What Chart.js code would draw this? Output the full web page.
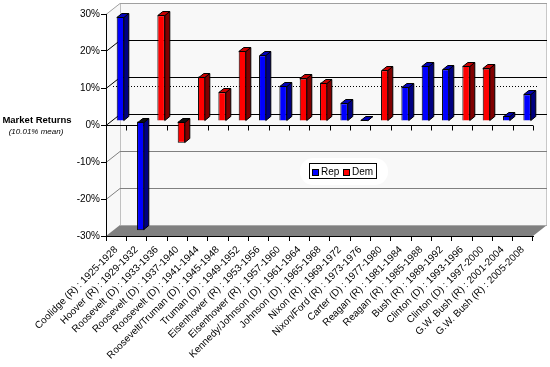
<!DOCTYPE html>
<html>
<head>
<meta charset="utf-8">
<script src="https://cdn.jsdelivr.net/npm/chart.js@4.4.1/dist/chart.umd.min.js"></script>
<style>
  html, body { margin: 0; padding: 0; background: #fff; }
  #wrap { width: 550px; height: 367px; }
</style>
</head>
<body>
<div id="wrap"><canvas id="returnsChart" width="550" height="367"></canvas></div>
<script>
// === DATA ===
const terms = [
  'Coolidge (R) : 1925-1928', 'Hoover (R) : 1929-1932', 'Roosevelt (D) : 1933-1936',
  'Roosevelt (D) : 1937-1940', 'Roosevelt (D) : 1941-1944', 'Roosevelt/Truman (D) : 1945-1948',
  'Truman (D) : 1949-1952', 'Eisenhower (R) : 1953-1956', 'Eisenhower (R) : 1957-1960',
  'Kennedy/Johnson (D) : 1961-1964', 'Johnson (D) : 1965-1968', 'Nixon (R) : 1969-1972',
  'Nixon/Ford (R) : 1973-1976', 'Carter (D) : 1977-1980', 'Reagan (R) : 1981-1984',
  'Reagan (R) : 1985-1988', 'Bush (R) : 1989-1992', 'Clinton (D) : 1993-1996',
  'Clinton (D) : 1997-2000', 'G.W. Bush (R) : 2001-2004', 'G.W. Bush (R) : 2005-2008'
];
const parties = ['R', 'R', 'D', 'D', 'D', 'D', 'D', 'R', 'R', 'D', 'D', 'R', 'R', 'D', 'R', 'R', 'R', 'D', 'D', 'R', 'R'];
const returns = [28.1, -29.5, 28.6, -5.9, 12.0, 7.8, 18.9, 17.8, 9.5, 11.5, 10.4, 4.8, 0.4, 13.7, 9.3, 14.9, 14.0, 14.9, 14.2, 1.4, 7.2];
const meanReturn = 10.01;
const yTickValues = [-30, -20, -10, 0, 10, 20, 30];

const repReturns = returns.map((v, i) => parties[i] === 'R' ? v : null);
const demReturns = returns.map((v, i) => parties[i] === 'D' ? v : null);

const FONT = 'Arial, "Liberation Sans", sans-serif';
const WALL = { dx: 14, dy: -11 };     // depth of the 3d box
const SHIFT = { dx: 4.3, dy: -4 };    // bars sit a bit inside the box
const BAR_D = { dx: 5, dy: -4 };      // depth of a single bar

const faceColors = {
  '#0000ff': { side: '#000080', top: '#0000b8' },
  '#ff0000': { side: '#800000', top: '#c80000' }
};

function line(ctx, x1, y1, x2, y2, color) {
  ctx.strokeStyle = color;
  ctx.beginPath();
  ctx.moveTo(x1, y1);
  ctx.lineTo(x2, y2);
  ctx.stroke();
}

function poly(ctx, pts, fill, stroke) {
  ctx.beginPath();
  ctx.moveTo(pts[0][0], pts[0][1]);
  pts.slice(1).forEach(p => ctx.lineTo(p[0], p[1]));
  ctx.closePath();
  if (fill) { ctx.fillStyle = fill; ctx.fill(); }
  if (stroke) { ctx.strokeStyle = stroke; ctx.stroke(); }
}

// === 3D BOX / BARS PLUGIN ===
const box3d = {
  id: 'box3d',
  beforeDraw(chart) {
    const { ctx, chartArea: a, scales: { y } } = chart;
    const L = a.left, R = a.right, T = a.top, B = a.bottom;
    const dx = WALL.dx, dy = WALL.dy;
    ctx.save();
    ctx.lineWidth = 1;
    // back wall + left wall
    ctx.fillStyle = '#f8f8f8';
    ctx.fillRect(L + dx, T + dy, R - L, B - T);
    poly(ctx, [[L, T], [L + dx, T + dy], [L + dx, B + dy], [L, B]], '#f8f8f8');
    // floor
    poly(ctx, [[L, B], [R, B], [R + dx, B + dy], [L + dx, B + dy]], '#808080');
    line(ctx, L + dx, B + dy + 0.5, R + dx, B + dy + 0.5, '#a8a8a8');
    // wall edges
    line(ctx, L + dx + 0.5, T + dy, L + dx + 0.5, B + dy, '#c0c0c0');
    line(ctx, R + dx - 0.5, T + dy, R + dx - 0.5, B + dy, '#c8c8c8');
    line(ctx, L + dx, T + dy + 0.5, R + dx, T + dy + 0.5, '#a0a0a0');
    line(ctx, L, T + 0.5, L + dx, T + dy + 0.5, '#a0a0a0');
    // gridlines on the walls
    yTickValues.forEach(v => {
      if (v === yTickValues[0] || v === yTickValues[yTickValues.length - 1]) return;
      const py = Math.round(y.getPixelForValue(v)) + 0.5;
      const c = v >= 0 ? '#000000' : '#808080';
      line(ctx, L, py, L + dx, py + dy, c);
      line(ctx, L + dx, py + dy, R + dx, py + dy, c);
    });
    ctx.restore();
  },
  beforeDatasetsDraw(chart) {
    const { ctx, chartArea: a, scales: { x, y } } = chart;
    const L = a.left, R = a.right;
    ctx.save();
    ctx.lineWidth = 1;
    // front zero line with ticks at category boundaries
    const y0 = Math.round(y.getPixelForValue(0)) + 0.5;
    line(ctx, L, y0, R, y0, '#000000');
    for (let i = 0; i <= terms.length; i++) {
      const px = Math.round(x.getPixelForValue(i - 0.5)) + 0.5;
      line(ctx, px, y0, px, y0 + 5, '#000000');
    }
    // mean line
    const ym = Math.round(y.getPixelForValue(meanReturn) - 1.7) + 0.5;
    ctx.setLineDash([1, 2]);
    line(ctx, L + 7, ym, R + 5, ym, '#000000');
    ctx.setLineDash([]);
    ctx.restore();
    // bars drawn a little inside the box
    ctx.save();
    ctx.translate(SHIFT.dx, SHIFT.dy);
  },
  afterDatasetsDraw(chart) {
    const { ctx } = chart;
    ctx.lineWidth = 1;
    chart.data.datasets.forEach((ds, di) => {
      const meta = chart.getDatasetMeta(di);
      const cols = faceColors[ds.backgroundColor];
      meta.data.forEach((el, i) => {
        if (ds.data[i] == null) return;
        const { x, y, base, width } = el.getProps(['x', 'y', 'base', 'width'], true);
        const l = Math.round(x - width / 2) + 0.5, r = Math.round(x + width / 2) - 0.5;
        const t = Math.round(Math.min(y, base)) + 0.5, b = Math.round(Math.max(y, base)) - 0.5;
        const topFill = ds.data[i] >= 0 ? cols.top : '#101010';
        poly(ctx, [[r, t], [r + BAR_D.dx, t + BAR_D.dy], [r + BAR_D.dx, b + BAR_D.dy], [r, b]], cols.side, '#000000');
        poly(ctx, [[l, t], [l + BAR_D.dx, t + BAR_D.dy], [r + BAR_D.dx, t + BAR_D.dy], [r, t]], topFill, '#000000');
      });
    });
    ctx.restore();
  },
  afterDraw(chart) {
    const { ctx } = chart;
    ctx.save();
    // axis title
    ctx.fillStyle = '#000000';
    ctx.textAlign = 'center';
    ctx.textBaseline = 'alphabetic';
    ctx.font = 'bold 9.5px ' + FONT;
    ctx.fillText('Market Returns', 37, 123);
    ctx.font = 'italic 8px ' + FONT;
    ctx.fillText('(' + meanReturn.toFixed(2) + '% mean)', 36, 134);
    // legend
    ctx.fillStyle = '#ffffff';
    ctx.beginPath();
    ctx.roundRect(300, 158, 88, 27, 13);
    ctx.fill();
    ctx.strokeStyle = '#000000';
    ctx.lineWidth = 1;
    ctx.strokeRect(309.5, 163.5, 67, 15);
    ctx.font = '10px ' + FONT;
    ctx.textAlign = 'left';
    ctx.textBaseline = 'middle';
    const items = [[312.5, 321], [343.5, 352]];
    chart.data.datasets.forEach((ds, i) => {
      const [sx, tx] = items[i];
      ctx.fillStyle = ds.backgroundColor;
      ctx.fillRect(sx, 169.5, 6, 6);
      ctx.strokeRect(sx, 169.5, 6, 6);
      ctx.fillStyle = '#000000';
      ctx.fillText(ds.label, tx, 172);
    });
    ctx.restore();
  }
};

// === CHART ===
const ctxReturns = document.getElementById('returnsChart').getContext('2d');
new Chart(ctxReturns, {
  type: 'bar',
  data: {
    labels: terms,
    datasets: [
      { label: 'Rep', data: repReturns, backgroundColor: '#0000ff', borderColor: '#000000', borderWidth: 1, clip: false },
      { label: 'Dem', data: demReturns, backgroundColor: '#ff0000', borderColor: '#000000', borderWidth: 1, clip: false }
    ]
  },
  options: {
    responsive: false,
    animation: false,
    events: [],
    layout: { padding: { top: 14, right: 17, left: 0, bottom: 0 } },
    datasets: { bar: { categoryPercentage: 1, barPercentage: 0.37 } },
    plugins: { legend: { display: false }, tooltip: { enabled: false } },
    scales: {
      x: {
        stacked: true,
        afterFit: s => { s.height = 131; },
        border: { display: true, color: '#000000' },
        grid: { display: true, offset: true, drawOnChartArea: false, drawTicks: true, tickLength: 5, color: '#000000' },
        ticks: {
          autoSkip: false, minRotation: 45, maxRotation: 45, padding: 3,
          color: '#000000', font: { family: FONT, size: 10 }
        }
      },
      y: {
        stacked: true,
        min: -30, max: 30,
        afterFit: s => { s.width = 106; },
        afterBuildTicks: s => { s.ticks = yTickValues.map(v => ({ value: v })); },
        border: { display: true, color: '#000000' },
        grid: { display: true, drawOnChartArea: false, drawTicks: true, tickLength: 5, color: '#000000' },
        ticks: {
          padding: 1, color: '#000000', font: { family: FONT, size: 10 },
          callback: v => v + '%'
        }
      }
    }
  },
  plugins: [box3d]
});
</script>
</body>
</html>
